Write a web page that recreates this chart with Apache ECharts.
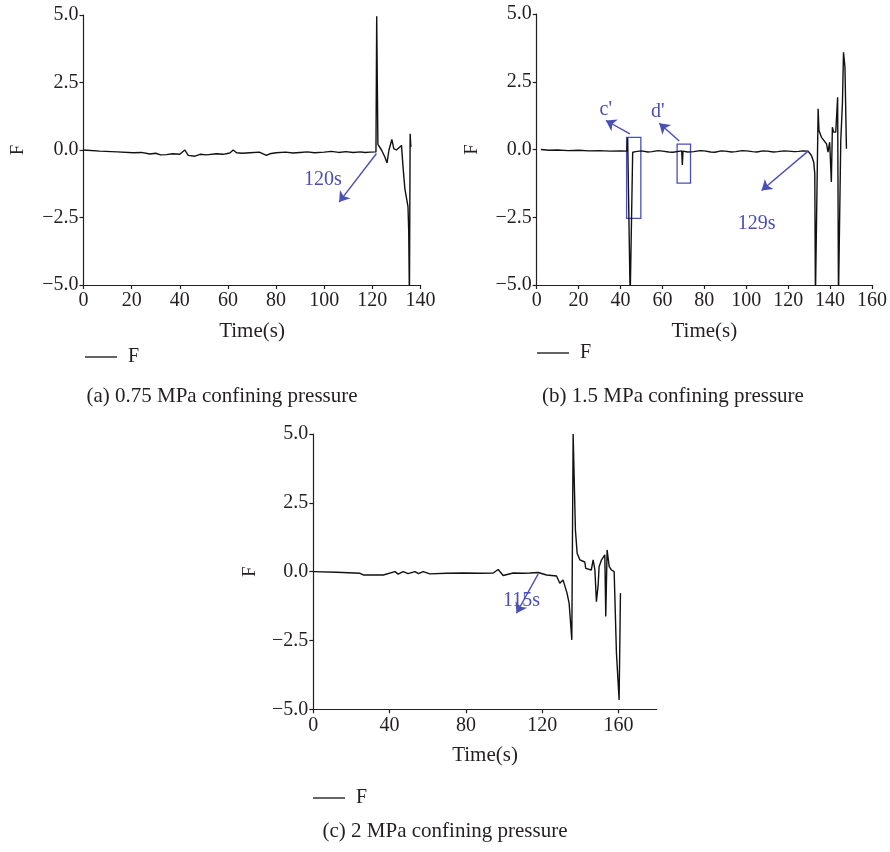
<!DOCTYPE html>
<html>
<head>
<meta charset="utf-8">
<script src="https://cdn.jsdelivr.net/npm/echarts@6/dist/echarts.min.js"></script>
<style>
html,body{margin:0;padding:0;background:#fff;}
#chart{width:890px;height:852px;}
</style>
</head>
<body>
<div id="chart"></div>
<script>
// ---------- DATA ----------
// Panel (a) 0.75 MPa
const timeA = [0, 6.8, 14, 20.7, 24, 27.6, 30, 32, 34.5, 37,
  40, 42.1, 43.5, 46.3, 48.4, 51, 55.3, 58, 60.8, 62.2,
  63.6, 66, 69.1, 73, 76, 77.4, 80, 84, 87, 89.9,
  93, 96, 100, 103, 106, 109, 112, 115, 117, 119,
  121.5, 121.8, 122.1, 122.3, 123.8, 125.2, 126.1, 126.9, 128.1, 128.9,
  130, 130.7, 132.1, 132.8, 133.5, 134.2, 134.8, 135.1, 135.4, 135.7,
  136];
const forceA = [0, -0.04, -0.07, -0.1, -0.09, -0.15, -0.12, -0.18, -0.17, -0.14,
  -0.16, 0, -0.2, -0.23, -0.16, -0.18, -0.14, -0.16, -0.11, 0,
  -0.1, -0.12, -0.1, -0.08, -0.2, -0.14, -0.1, -0.08, -0.11, -0.09,
  -0.07, -0.1, -0.08, -0.05, -0.09, -0.06, -0.09, -0.07, -0.09, -0.08,
  -0.07, 4.95, 4.95, 0.21, 0, -0.26, -0.48, 0, 0.39, 0.05,
  0, -0.07, 0.17, -0.69, -1.43, -1.5, -2.1, -2.98, -5.5, 0.6,
  0.11];

// Panel (b) 1.5 MPa
const timeB = [2, 6, 10, 15, 20, 25, 30, 35, 40, 43,
  43.4, 44.2, 44.6, 45.2, 45.8, 47.2, 50, 53, 55, 58,
  60, 63, 65, 69.2, 69.5, 69.8, 72, 75, 78, 80,
  83, 85, 88, 90, 93, 95, 98, 100, 103, 105,
  108, 110, 113, 115, 118, 120, 123, 125, 127, 129.5,
  131.1, 132.2, 132.7, 133.0, 133.6, 134.3, 134.7, 135.9, 138.3, 139.0,
  139.8, 140.6, 141.1, 141.7, 142.7, 143.6, 144.0, 144.6, 145.1, 145.9,
  146.4, 147.1, 147.8];
const forceB = [0, -0.03, -0.02, -0.04, -0.03, -0.05, -0.04, -0.06, -0.05, -0.06,
  0.43, 0.43, -5.5, -5.5, -0.1, -0.08, -0.05, -0.09, -0.08, -0.04,
  -0.06, -0.09, -0.1, -0.05, -0.57, -0.06, -0.09, -0.08, -0.04, -0.05,
  -0.09, -0.1, -0.05, -0.06, -0.09, -0.08, -0.04, -0.05, -0.08, -0.09,
  -0.05, -0.06, -0.09, -0.08, -0.05, -0.06, -0.08, -0.07, -0.05, -0.06,
  -0.22, -0.47, -0.9, -5.5, -5.5, 1.5, 0.7, 0.45, 0.21, -0.1,
  0.27, -1.2, 0.82, 0.64, 0.64, 1.93, -5.5, -5.5, 0.33, 1.73,
  3.59, 3.04, 0.03];

// Panel (c) 2 MPa
const timeC = [0, 12.2, 24.5, 26.2, 36.7, 42.8, 44.5, 47.1, 49.7, 53.3,
  55.1, 57.6, 61.1, 70, 78.6, 87.3, 94.3, 96.9, 99.5, 104.8,
  110, 113.5, 117.9, 122.3, 127.5, 129.2, 130.9, 133.0, 134.1, 135.5,
  136.2, 136.7, 137.4, 138.3, 139.7, 142.3, 142.8, 145.7, 146.7, 147.6,
  148.4, 149.3, 149.8, 151.1, 152.8, 153.3, 154.0, 155.1, 156.3, 157.7,
  158.9, 160.3, 161.0];
const forceC = [0, -0.02, -0.06, -0.12, -0.12, 0, -0.09, 0, -0.07, 0,
  -0.07, 0, -0.08, -0.06, -0.05, -0.06, -0.05, 0.08, -0.14, -0.05,
  -0.06, -0.05, -0.03, -0.12, -0.16, -0.42, -0.3, -0.78, -1.15, -2.48,
  5.0, 5.0, 1.51, 0.67, 0.43, 0.35, 0.12, 0.06, 0.43, 0.06,
  -1.09, -0.5, 0.18, 0.43, 0.61, -1.63, 0.79, 0.18, 0.06, 0,
  -2.96, -4.66, -0.78];

// Tick labels
const xTicksC = [0, 40, 80, 120, 160];
const captions = ['(a) 0.75 MPa confining pressure', '(b) 1.5 MPa confining pressure', '(c) 2 MPa confining pressure'];
const xName = 'Time(s)';
const yName = 'F';

// Annotations (data coordinates)
const arrowA = [[121.7, -0.13], [106.2, -1.93]];
const labelA = {text: '120s', at: [99.4, -1.12]};
const arrowB = [[129.5, -0.06], [107.3, -1.51]];
const labelB = {text: '129s', at: [104.9, -2.74]};
const arrowC1 = [[44.5, 0.58], [33.0, 1.07]];
const labelC1 = {text: "c'", at: [33.0, 1.48]};
const arrowD1 = [[68.0, 0.31], [58.5, 0.97]];
const labelD1 = {text: "d'", at: [57.8, 1.40]};
const boxC1 = [[42.9, 0.45], [49.7, -2.54]];
const boxD1 = [[67.0, 0.2], [73.4, -1.24]];
const arrowC = [[117.9, -0.08], [106.5, -1.51]];
const labelC = {text: '115s', at: [109.2, -1.05]};

// ---------- CHART ----------
const zip = (t, v) => t.map((x, i) => [x, v[i]]);
const FONT = 'Liberation Serif';
const INK = '#231f20';
const BLUE = '#4a4fb3';

const fmtY = v => (v < 0 ? '\u2212' : '') + Math.abs(v).toFixed(1);

function yAxisCfg(gi, gap) {
  return {
    gridIndex: gi, type: 'value', min: -5, max: 5, interval: 2.5,
    name: yName, nameLocation: 'middle', nameGap: gap, nameRotate: 90,
    nameTextStyle: {fontFamily: FONT, fontSize: 19, color: INK},
    axisLine: {show: true, onZero: false, lineStyle: {color: INK, width: 1.2}},
    axisTick: {show: true, length: 4, lineStyle: {color: INK, width: 1.2}},
    axisLabel: {fontFamily: FONT, fontSize: 20, color: INK, margin: 5, formatter: fmtY},
    splitLine: {show: false}
  };
}
function xAxisCfg(gi, max, interval, extra) {
  const c = {
    gridIndex: gi, type: 'value', min: 0, max: max, interval: interval,
    name: xName, nameLocation: 'middle', nameGap: 36,
    nameTextStyle: {fontFamily: FONT, fontSize: 21, color: INK},
    axisLine: {show: true, onZero: false, lineStyle: {color: INK, width: 1.2}},
    axisTick: {show: true, length: 4, lineStyle: {color: INK, width: 1.2}},
    axisLabel: {fontFamily: FONT, fontSize: 20, color: INK, margin: 6},
    splitLine: {show: false}
  };
  if (extra) {
    c.axisLabel.customValues = extra;
    c.axisTick.customValues = extra;
  }
  return c;
}

function annotations(arrows, labels, boxes) {
  const o = {};
  o.markLine = {
    silent: true, symbol: ['none', 'arrow'], symbolSize: 10,
    label: {show: false},
    lineStyle: {color: BLUE, width: 1.4, type: 'solid'},
    data: arrows.map(a => [{coord: a[0], symbol: 'none'}, {coord: a[1], symbol: 'arrow', symbolSize: 10}])
  };
  o.markPoint = {
    silent: true, symbol: 'circle', symbolSize: 0,
    data: labels.map(l => ({coord: l.at, value: l.text,
      label: {show: true, position: 'inside', formatter: l.text,
        fontFamily: FONT, fontSize: 20, color: BLUE}}))
  };
  if (boxes && boxes.length) {
    o.markArea = {
      silent: true,
      itemStyle: {color: 'rgba(0,0,0,0)', borderColor: BLUE, borderWidth: 1.3},
      data: boxes.map(b => [{coord: b[0]}, {coord: b[1]}])
    };
  }
  return o;
}

function lineSeries(i, data, ann) {
  return Object.assign({
    name: 'F', type: 'line', xAxisIndex: i, yAxisIndex: i,
    data: data, showSymbol: false, symbol: 'none', smooth: false,
    clip: true, animation: false,
    lineStyle: {color: '#111', width: 1.4}, itemStyle: {color: '#111'}
  }, ann);
}

function legendCfg(left, top) {
  return {
    left: left, top: top, padding: 0, data: ['F'], icon: 'rect',
    itemWidth: 32, itemHeight: 1.3, itemGap: 10, selectedMode: false,
    textStyle: {fontFamily: FONT, fontSize: 20, color: INK, padding: [0, 0, 0, 6]}
  };
}

const chart = echarts.init(document.getElementById('chart'), null, {renderer: 'canvas'});
chart.setOption({
  backgroundColor: '#fff',
  animation: false,
  grid: [
    {left: 83.5, top: 15, width: 337, height: 270},
    {left: 536.7, top: 14, width: 335.6, height: 271},
    {left: 313.3, top: 434, width: 343.4, height: 275.3}
  ],
  xAxis: [
    xAxisCfg(0, 140, 20),
    xAxisCfg(1, 160, 20),
    xAxisCfg(2, 180, 40, xTicksC)
  ],
  yAxis: [yAxisCfg(0, 56), yAxisCfg(1, 55), yAxisCfg(2, 54)],
  legend: [legendCfg(85, 347), legendCfg(537, 343), legendCfg(313, 788)],
  series: [
    lineSeries(0, zip(timeA, forceA), annotations([arrowA], [labelA], [])),
    lineSeries(1, zip(timeB, forceB), annotations([arrowB, arrowC1, arrowD1], [labelB, labelC1, labelD1], [boxC1, boxD1])),
    lineSeries(2, zip(timeC, forceC), annotations([arrowC], [labelC], []))
  ],
  graphic: [
    {type: 'text', x: 222, y: 396, style: {text: captions[0], textAlign: 'center', textVerticalAlign: 'middle', font: '21px "Liberation Serif"', fill: INK}},
    {type: 'text', x: 673, y: 396, style: {text: captions[1], textAlign: 'center', textVerticalAlign: 'middle', font: '21px "Liberation Serif"', fill: INK}},
    {type: 'text', x: 445, y: 831, style: {text: captions[2], textAlign: 'center', textVerticalAlign: 'middle', font: '21px "Liberation Serif"', fill: INK}}
  ]
});
</script>
</body>
</html>
